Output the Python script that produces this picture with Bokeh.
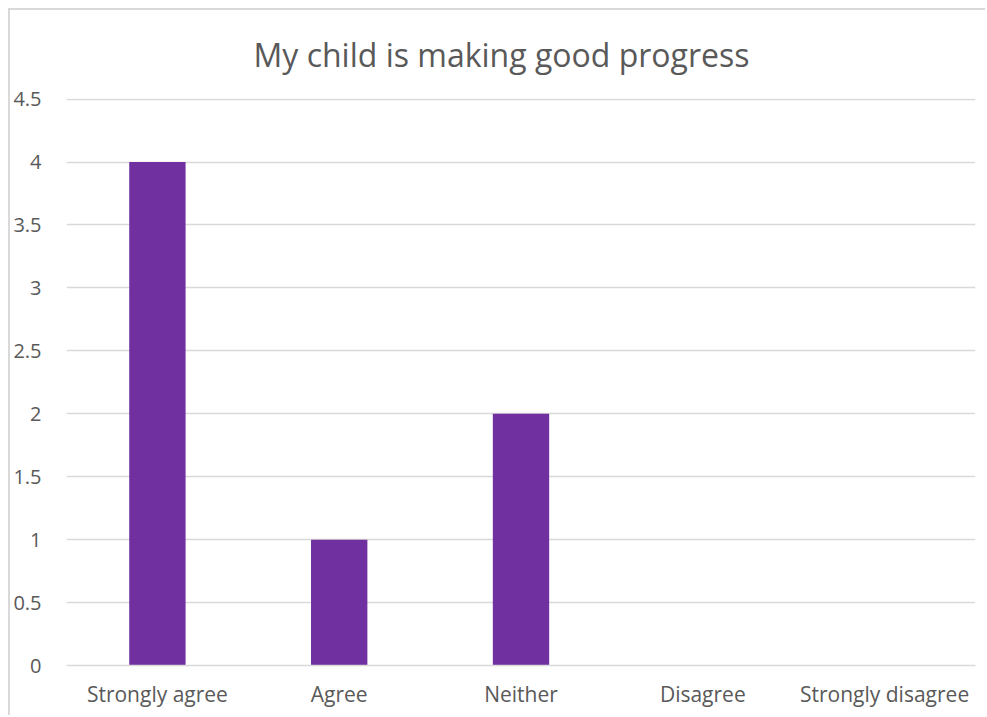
from bokeh.plotting import figure
from bokeh.embed import file_html
from bokeh.resources import INLINE
from bokeh.models import ColumnDataSource, SingleIntervalTicker

categories = ["Strongly agree", "Agree", "Neither", "Disagree", "Strongly disagree"]
counts = [4, 1, 2, 0, 0]
title_text = "My child is making good progress"

src = ColumnDataSource(dict(cat=categories, val=counts))

p = figure(x_range=categories, y_range=(0, 4.505), width=977, height=707,
           output_backend="svg", toolbar_location=None,
           min_border_left=30, min_border_right=12, min_border_top=88, min_border_bottom=52,
           background_fill_color="white", border_fill_color="white")
p.styles = {"border-left": "2px solid #d9d9d9", "border-top": "2px solid #d9d9d9",
            "margin-left": "8px", "margin-top": "8px"}

p.vbar(x="cat", top="val", width=0.31, source=src, color="#7030A0", line_color=None)

p.title.text = title_text
p.title.align = "left"
p.title.vertical_align = "top"
p.title.text_font = "Open Sans"
p.title.text_font_size = "32px"
p.title.text_font_style = "normal"
p.title.text_color = "#595959"
p.title.offset = 187
p.title.standoff = 42

p.outline_line_color = None
p.xgrid.grid_line_color = None
p.ygrid.grid_line_color = "#d9d9d9"
p.ygrid.grid_line_width = 1.5
p.yaxis.ticker = SingleIntervalTicker(interval=0.5)

for ax in (p.xaxis[0], p.yaxis[0]):
    ax.axis_line_color = None
    ax.major_tick_line_color = None
    ax.minor_tick_line_color = None
    ax.major_label_text_font = "Open Sans"
    ax.major_label_text_font_size = "20px"
    ax.major_label_text_color = "#595959"

p.xaxis.major_label_text_font_size = "21px"
p.xaxis.axis_line_color = "#d9d9d9"
p.xaxis.axis_line_width = 1.5
p.yaxis.major_label_standoff = 19
p.xaxis.major_label_standoff = 8

open("out.html", "w").write(file_html(p, INLINE))
